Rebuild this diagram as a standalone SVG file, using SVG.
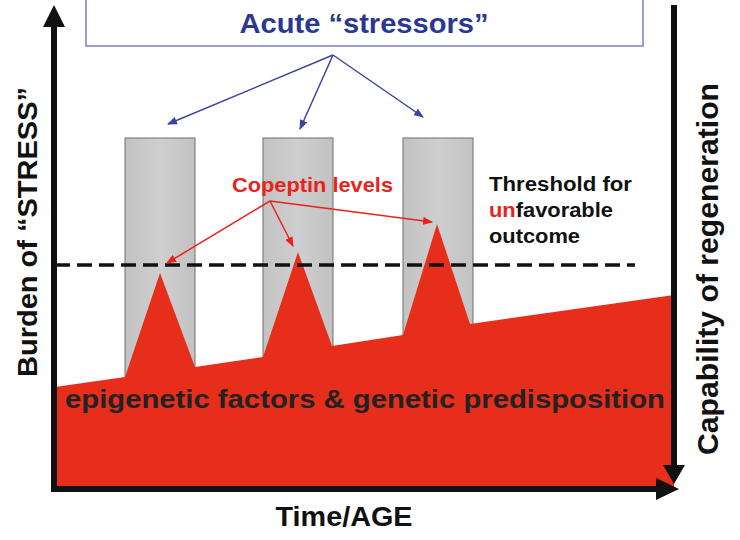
<svg xmlns="http://www.w3.org/2000/svg" width="740" height="540" viewBox="0 0 740 540">
  <defs>
    <linearGradient id="barGrad" x1="0" y1="0" x2="1" y2="0">
      <stop offset="0" stop-color="#c2c2c2"/>
      <stop offset="0.5" stop-color="#cfcfcf"/>
      <stop offset="1" stop-color="#c2c2c2"/>
    </linearGradient>
    <marker id="blueHead" markerWidth="10" markerHeight="8" refX="9" refY="4" orient="auto" markerUnits="userSpaceOnUse">
      <path d="M0,0 L10,4 L0,8 Z" fill="#3a469e"/>
    </marker>
    <marker id="redHead" markerWidth="10" markerHeight="8" refX="9" refY="4" orient="auto" markerUnits="userSpaceOnUse">
      <path d="M0,0 L10,4 L0,8 Z" fill="#e8231b"/>
    </marker>
  </defs>
  <style>
    .bar { fill: url(#barGrad); stroke: #6e6e6e; stroke-width: 1; }
    .lbl { font-family: "Liberation Sans", Arial, sans-serif; font-weight: bold; }
    .blueArrow { stroke: #3a469e; stroke-width: 1.5; fill: none; marker-end: url(#blueHead); }
    .redArrow { stroke: #e8231b; stroke-width: 1.5; fill: none; marker-end: url(#redHead); }
    .axis { stroke: #111; stroke-width: 6; fill: none; }
  </style>
  <rect x="0" y="0" width="740" height="540" fill="#ffffff"/>

  <g id="stressor-bars">
    <rect class="bar" x="125" y="138" width="70" height="262"/>
    <rect class="bar" x="263" y="138" width="70" height="250"/>
    <rect class="bar" x="403" y="138" width="70" height="230"/>
  </g>

  <g id="red-area">
    <polygon fill="#e62e1a" points="55,387 125,377 160,273 195,367 263,357 298,252 332,346 403,335 437,224 470,324 674,295 674,487 55,487"/>
  </g>

  <g id="threshold-line">
    <line x1="55" y1="265" x2="635" y2="265" stroke="#111" stroke-width="3.5" stroke-dasharray="15,7"/>
  </g>

  <g id="acute-stressors">
    <rect x="86" y="-1" width="557" height="47" fill="#ffffff" stroke="#7b80c6" stroke-width="1.5"/>
    <text class="lbl" x="364" y="33" font-size="28" fill="#2b3890" text-anchor="middle" textLength="249" lengthAdjust="spacingAndGlyphs">Acute “stressors”</text>
  </g>

  <g id="copeptin-label">
    <text class="lbl" x="232" y="192" font-size="21" fill="#e8231b" textLength="161" lengthAdjust="spacingAndGlyphs">Copeptin levels</text>
  </g>

  <g id="threshold-label">
    <text class="lbl" x="489" y="191" font-size="20" fill="#111" textLength="143" lengthAdjust="spacingAndGlyphs">Threshold for</text>
    <text class="lbl" x="489" y="217" font-size="20" fill="#111" textLength="124" lengthAdjust="spacingAndGlyphs"><tspan fill="#e8231b">un</tspan>favorable</text>
    <text class="lbl" x="489" y="243" font-size="20" fill="#111" textLength="91" lengthAdjust="spacingAndGlyphs">outcome</text>
  </g>

  <g id="predisposition-label">
    <text class="lbl" x="65" y="408" font-size="26" fill="#222" textLength="600" lengthAdjust="spacingAndGlyphs">epigenetic factors &amp; genetic predisposition</text>
  </g>

  <g id="connectors">
    <line class="blueArrow" x1="333" y1="55" x2="168" y2="124"/>
    <line class="blueArrow" x1="333" y1="55" x2="300" y2="129"/>
    <line class="blueArrow" x1="333" y1="55" x2="423" y2="117"/>
    <line class="redArrow" x1="270" y1="201" x2="167" y2="263"/>
    <line class="redArrow" x1="270" y1="201" x2="293" y2="246"/>
    <line class="redArrow" x1="270" y1="201" x2="432" y2="222"/>
  </g>

  <g id="axes">
    <line class="axis" x1="54" y1="22" x2="54" y2="492"/>
    <polygon points="54,5 43,27 65,27" fill="#111"/>
    <line class="axis" x1="51" y1="489" x2="660" y2="489"/>
    <polygon points="679,489 656,478 656,500" fill="#111"/>
    <line class="axis" x1="674" y1="5" x2="674" y2="468"/>
    <polygon points="674,484 663,465 685,465" fill="#111"/>
  </g>

  <g id="axis-labels">
    <text class="lbl" transform="translate(37,232) rotate(-90)" font-size="28" fill="#111" text-anchor="middle" textLength="290" lengthAdjust="spacingAndGlyphs">Burden of “STRESS”</text>
    <text class="lbl" transform="translate(718,269) rotate(-90)" font-size="29" fill="#111" text-anchor="middle" textLength="372" lengthAdjust="spacingAndGlyphs">Capability of regeneration</text>
    <text class="lbl" x="344" y="526" font-size="28" fill="#111" text-anchor="middle" textLength="137" lengthAdjust="spacingAndGlyphs">Time/AGE</text>
  </g>
</svg>
